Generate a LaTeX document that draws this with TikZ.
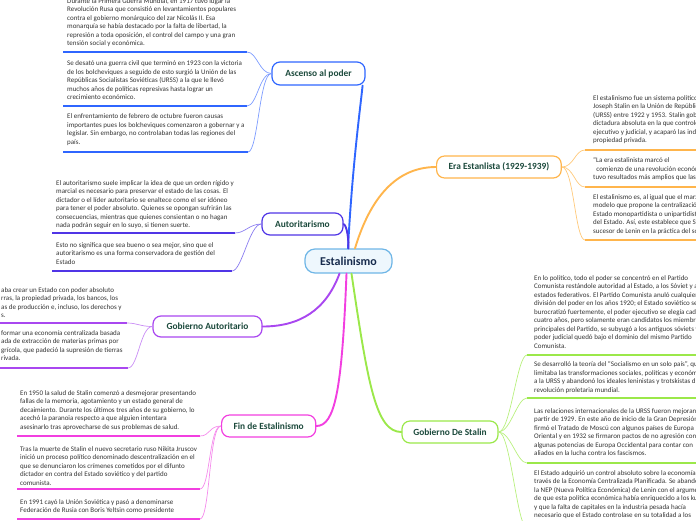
\documentclass[tikz,border=0pt]{standalone}
\usepackage{fontspec}
\setmainfont{Carlito}
\definecolor{txtc}{HTML}{333333}
\definecolor{topicc}{HTML}{1C4A3C}
\definecolor{centb}{HTML}{6FB6E6}
\definecolor{centf}{HTML}{EEF7FD}
\definecolor{centt}{HTML}{172B4D}
\definecolor{ascc}{HTML}{2F66FF}
\definecolor{ascl}{HTML}{7D9CFF}
\definecolor{erac}{HTML}{FFB54C}
\definecolor{eral}{HTML}{FFC97A}
\definecolor{autc}{HTML}{5035E6}
\definecolor{autl}{HTML}{8A7CF0}
\definecolor{gobc}{HTML}{A947F0}
\definecolor{gobl}{HTML}{C98CF5}
\definecolor{finc}{HTML}{F23FE0}
\definecolor{finl}{HTML}{F58CEC}
\definecolor{gdsc}{HTML}{9BE84A}
\definecolor{gdsl}{HTML}{B8F07E}
\tikzset{
  txt/.style={font=\fontsize{7}{8.5}\selectfont, text=txtc, align=left, inner sep=0pt, anchor=north west},
  topic/.style={draw, rounded corners=8pt, line width=1.2pt, fill=white, font=\fontsize{9.4}{11}\selectfont\bfseries, text=topicc, minimum height=22pt, inner xsep=12pt},
  ul/.style={line width=1.6pt},
  sub/.style={line width=0.7pt},
  mainc/.style={line width=1.9pt, line cap=round},
}
\begin{document}
\begin{tikzpicture}[x=1pt,y=-1pt]
\useasboundingbox (0,0) rectangle (696,520);
\clip (0,0) rectangle (696,520);

% central and topic nodes
\node[draw=centb, fill=centf, rounded corners=10pt, line width=1.2pt, font=\fontsize{12}{14}\selectfont\bfseries, text=centt, minimum width=87pt, minimum height=24pt, inner sep=0pt] (est) at (348.5,261) {Estalinismo};
\node[topic, draw=ascc, minimum width=93pt, minimum height=23pt, inner xsep=0pt] (asc) at (318.5,73.5) {Ascenso al poder};
\node[topic, draw=erac, anchor=west] (era) at (436,167) {Era Estanlista (1929-1939)};
\node[topic, draw=autc, minimum width=81pt, inner xsep=0pt] (aut) at (302.5,224) {Autoritarismo};
\node[topic, draw=gobc, minimum width=109pt, minimum height=21pt, inner xsep=0pt] (gob) at (207.5,326.5) {Gobierno Autoritario};
\node[topic, draw=finc, anchor=west] (fin) at (221,426) {Fin de Estalinismo};
\node[topic, draw=gdsc, minimum width=96pt, inner xsep=0pt] (gds) at (450,432) {Gobierno De Stalin};

% main connectors
\draw[mainc, ascc] ([xshift=-0.5pt]est.north) .. controls (352,170) and (360,110) .. ([xshift=-3pt]asc.south east);
\draw[mainc, erac] ([xshift=6.5pt]est.north) .. controls (368,205) and (392,167) .. (era.west);
\draw[mainc, autc] (aut.east) .. controls (347,226) and (348.5,238) .. (est.north);
\draw[mainc, gobc] ([xshift=-9pt]est.south) .. controls (326,310) and (300,326.5) .. (gob.east);
\draw[mainc, finc] ([xshift=-2pt]est.south) .. controls (342,390) and (335,426) .. (fin.east);
\draw[mainc, gdsc] ([xshift=3pt]est.south) .. controls (368,385) and (376,432) .. (gds.west);

% ---------- Ascenso al poder ----------
\node[txt] (a1) at (67,-1.9) {Durante la Primera Guerra Mundial, en 1917 tuvo lugar la\\Revolución Rusa que consistió en levantamientos populares\\contra el gobierno monárquico del zar Nicolás II. Esa\\monarquía se había destacado por la falta de libertad, la\\represión a toda oposición, el control del campo y una gran\\tensión social y económica.};
\node[txt] (a2) at (67,60.7) {Se desató una guerra civil que terminó en 1923 con la victoria\\de los bolcheviques a seguido de esto surgió la Unión de las\\Repúblicas Socialistas Soviéticas (URSS) a la que le llevó\\muchos años de políticas represivas hasta lograr un\\crecimiento económico.};
\node[txt] (a3) at (67,113.7) {El enfrentamiento de febrero de octubre fueron causas\\importantes pues los bolcheviques comenzaron a gobernar y a\\legislar. Sin embargo, no controlaban todas las regiones del\\país.};
\coordinate (a1s) at (63,52);  \coordinate (a1e) at (247,52);
\coordinate (a2s) at (63,106); \coordinate (a2e) at (247,106);
\coordinate (a3s) at (63,152); \coordinate (a3e) at (248,152);
\foreach \k in {a1,a2,a3}{
  \draw[ul, ascc] (\k s) -- (\k e);
  \draw[sub, ascl] (asc.west) .. controls +(-12,0) and +(10,0) .. (\k e);
}

% ---------- Autoritarismo ----------
\node[txt] (b1) at (56,180.4) {El autoritarismo suele implicar la idea de que un orden rígido y\\marcial es necesario para preservar el estado de las cosas. El\\dictador o el líder autoritario se enaltece como el ser idóneo\\para tener el poder absoluto. Quienes se opongan sufrirán las\\consecuencias, mientras que quienes consientan o no hagan\\nada podrán seguir en lo suyo, si tienen suerte.};
\node[txt] (b2) at (56,242.4) {Esto no significa que sea bueno o sea mejor, sino que el\\autoritarismo es una forma conservadora de gestión del\\Estado};
\coordinate (b1s) at (52,233); \coordinate (b1e) at (235,233);
\coordinate (b2s) at (52,271); \coordinate (b2e) at (232,271);
\foreach \k in {b1,b2}{
  \draw[ul, autc] (\k s) -- (\k e);
  \draw[sub, autl] (aut.west) .. controls +(-12,0) and +(10,0) .. (\k e);
}

% ---------- Gobierno Autoritario ----------
\node[txt] (c1) at (1,287.4) {aba crear un Estado con poder absoluto\\rras, la propiedad privada, los bancos, los\\as de producción e, incluso, los derechos y\\s.};
\node[txt] (c2) at (1,330.4) {formar una economía centralizada basada\\ada de extracción de materias primas por\\grícola, que padeció la supresión de tierras\\rivada.};
\coordinate (c1s) at (0,323); \coordinate (c1e) at (127,323);
\coordinate (c2s) at (0,368); \coordinate (c2e) at (128,368);
\foreach \k in {c1,c2}{
  \draw[ul, gobc] (\k s) -- (\k e);
  \draw[sub, gobl] (gob.west) .. controls +(-12,0) and +(10,0) .. (\k e);
}

% ---------- Fin de Estalinismo ----------
\node[txt] (d1) at (20,390.4) {En 1950 la salud de Stalin comenzó a desmejorar presentando\\fallas de la memoria, agotamiento y un estado general de\\decaimiento. Durante los últimos tres años de su gobierno, lo\\acechó la paranoia respecto a que alguien intentara\\asesinarlo tras aprovecharse de sus problemas de salud.};
\node[txt] (d2) at (20,446.4) {Tras la muerte de Stalin el nuevo secretario ruso Nikita Jruscov\\inició un proceso político denominado descentralización en el\\que se denunciaron los crímenes cometidos por el difunto\\dictador en contra del Estado soviético y del partido\\comunista.};
\node[txt] (d3) at (20,499.4) {En 1991 cayó la Unión Soviética y pasó a denominarse\\Federación de Rusia con Boris Yeltsin como presidente};
\coordinate (d1s) at (17,436); \coordinate (d1e) at (200,436);
\coordinate (d2s) at (17,489); \coordinate (d2e) at (200,489);
\coordinate (d3s) at (17,519); \coordinate (d3e) at (200,519);
\foreach \k in {d1,d2,d3}{
  \draw[ul, finc] (\k s) -- (\k e);
  \draw[sub, finl] (fin.west) .. controls +(-12,0) and +(10,0) .. (\k e);
}

% ---------- Era Estanlista ----------
\node[txt] (e1) at (593,95.4) {El estalinismo fue un sistema político\\Joseph Stalin en la Unión de Repúblic\\(URSS) entre 1922 y 1953. Stalin gobe\\dictadura absoluta en la que controló\\ejecutivo y judicial, y acaparó las indu\\propiedad privada.};
\node[txt] (e2) at (593,157.4) {“La era estalinista marcó el\\\ \ comienzo de una revolución económ\\tuvo resultados más amplios que las};
\node[txt] (e3) at (593,194.4) {El estalinismo es, al igual que el marx\\modelo que propone la centralizació\\Estado monopartidista o unipartidist\\del Estado. Así, este establece que St\\sucesor de Lenin en la práctica del so};
\coordinate (e1s) at (585,150); \coordinate (e1e) at (700,150);
\coordinate (e2s) at (585,187); \coordinate (e2e) at (700,187);
\coordinate (e3s) at (585,240); \coordinate (e3e) at (700,240);
\foreach \k in {e1,e2,e3}{
  \draw[ul, erac] (\k s) -- (\k e);
  \draw[sub, eral] (era.east) .. controls +(12,0) and +(-10,0) .. (\k s);
}

% ---------- Gobierno De Stalin ----------
\node[txt] (f1) at (534,275.4) {En lo político, todo el poder se concentró en el Partido\\Comunista restándole autoridad al Estado, a los Sóviet y a\\estados federativos. El Partido Comunista anuló cualquier\\división del poder en los años 1920; el Estado soviético se\\burocratizó fuertemente, el poder ejecutivo se elegía cad\\cuatro años, pero solamente eran candidatos los miembro\\principales del Partido, se subyugó a los antiguos sóviets y\\poder judicial quedó bajo el dominio del mismo Partido\\Comunista.};
\node[txt] (f2) at (534,361.4) {Se desarrolló la teoría del “Socialismo en un solo país”, qu\\limitaba las transformaciones sociales, políticas y económ\\a la URSS y abandonó los ideales leninistas y trotskistas d\\revolución proletaria mundial.};
\node[txt] (f3) at (534,408.1) {Las relaciones internacionales de la URSS fueron mejoran\\partir de 1929. En este año de inicio de la Gran Depresión,\\firmó el Tratado de Moscú con algunos países de Europa\\Oriental y en 1932 se firmaron pactos de no agresión con\\algunas potencias de Europa Occidental para contar con\\aliados en la lucha contra los fascismos.};
\node[txt] (f4) at (534,470.4) {El Estado adquirió un control absoluto sobre la economía, a\\través de la Economía Centralizada Planificada. Se abando\\la NEP (Nueva Política Económica) de Lenin con el argume\\de que esta política económica había enriquecido a los kul\\y que la falta de capitales en la industria pesada hacía\\necesario que el Estado controlase en su totalidad a los};
\coordinate (f1s) at (527,355); \coordinate (f1e) at (700,355);
\coordinate (f2s) at (527,398); \coordinate (f2e) at (700,398);
\coordinate (f3s) at (527,463); \coordinate (f3e) at (700,463);
\coordinate (f4s) at (527,528); \coordinate (f4e) at (700,528);
\foreach \k in {f1,f2,f3,f4}{
  \draw[ul, gdsc] (\k s) -- (\k e);
  \draw[sub, gdsl] (gds.east) .. controls +(12,0) and +(-10,0) .. (\k s);
}
\end{tikzpicture}
\end{document}
